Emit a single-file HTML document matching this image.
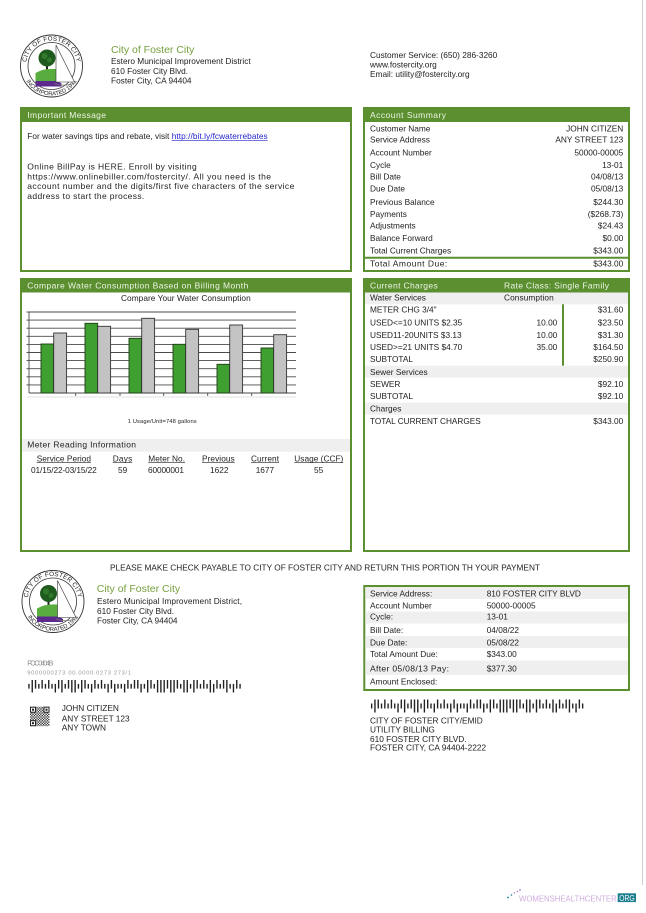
<!DOCTYPE html>
<html><head><meta charset="utf-8">
<style>
html,body{margin:0;padding:0;background:#fff;}
svg{display:block;}
text{font-family:"Liberation Sans",Arial,sans-serif;fill:#222;font-size:8.3px;}
.h{fill:#eef5e6;font-size:8.5px;}
.g{fill:#76a03e;font-size:10.5px;}
</style></head><body>
<svg width="646" height="913" viewBox="0 0 646 913" xmlns="http://www.w3.org/2000/svg">
<defs>
<pattern id="qr" width="2.6" height="2.6" patternUnits="userSpaceOnUse"><rect width="1.3" height="1.3" fill="#333"/><rect x="1.3" y="1.3" width="1.3" height="1.3" fill="#333"/></pattern>
<path id="arcT1" d="M-25.5,0 A25.5,25.5 0 0 1 25.5,0" fill="none"/>
<path id="arcB1" d="M-29.5,0 A29.5,29.5 0 0 0 29.5,0" fill="none"/>
</defs>
<rect width="646" height="913" fill="#fff"/>
<line x1="642.5" y1="0" x2="642.5" y2="885" stroke="#cfcfcf" stroke-width="1"/>

<!-- Top logo -->
<g transform="translate(51.5,66)">
<circle r="31" fill="#fff" stroke="#333" stroke-width="0.9"/>
<circle r="23.5" fill="#fff" stroke="#333" stroke-width="0.8"/>
<text font-size="6.3" letter-spacing="0.2" style="font-size:6.3px"><textPath href="#arcT1" startOffset="50%" text-anchor="middle">CITY OF FOSTER CITY</textPath></text>
<text font-size="5.8" style="font-size:5.8px"><textPath href="#arcB1" startOffset="50%" text-anchor="middle">INCORPORATED 1971</textPath></text>
<rect x="-5.5" y="-1" width="2" height="6" fill="#222"/>
<circle cx="-4.5" cy="-8" r="8.5" fill="#1f5a1e"/>
<circle cx="-7" cy="-10" r="3" fill="#2f7a2a"/>
<circle cx="-2" cy="-6" r="2.5" fill="#2f7a2a"/>
<path d="M-16,16 L-16,7 Q-8,2 4.5,3 L4.5,16 Z" fill="#58ad3e"/>
<path d="M-16,15 L6,15 L10,17.5 L10,20.5 L-16,20.5 Z" fill="#5b2a8c"/>
<path d="M4.5,-21 L4.5,16 L23,16 Z" fill="#fff" stroke="#333" stroke-width="0.6"/>
<path d="M3,17.5 Q12,21 24,17" stroke="#777" stroke-width="0.7" fill="none"/>
</g>

<text class="g" x="111" y="52.8">City of Foster City</text>
<text x="111" y="64">Estero Municipal Improvement District</text>
<text x="111" y="74">610 Foster City Blvd.</text>
<text x="111" y="83.5">Foster City, CA 94404</text>

<text x="370" y="58">Customer Service: (650) 286-3260</text>
<text x="370" y="67.5">www.fostercity.org</text>
<text x="370" y="77">Email: utility@fostercity.org</text>

<!-- Important Message -->
<rect x="21" y="108" width="330" height="163" fill="#fff" stroke="#5b8f30" stroke-width="2"/>
<rect x="20" y="107" width="332" height="15" fill="#5b8f30"/>
<text class="h" x="27.3" y="118" textLength="78.7" lengthAdjust="spacing">Important Message</text>
<text x="27.3" y="139" textLength="142" lengthAdjust="spacing">For water savings tips and rebate, visit</text>
<text x="171.7" y="139" textLength="96" lengthAdjust="spacing" style="fill:#2323d0">http://bit.ly/fcwaterrebates</text>
<line x1="171.7" y1="140.3" x2="267.7" y2="140.3" stroke="#2323d0" stroke-width="0.6"/>
<text x="27.3" y="169.7" style="font-size:8.5px" textLength="169.4" lengthAdjust="spacing">Online BillPay is HERE. Enroll by visiting</text>
<text x="27.3" y="179.3" style="font-size:8.5px" textLength="243.7" lengthAdjust="spacing">https://www.onlinebiller.com/fostercity/. All you need is the</text>
<text x="27.3" y="189.1" style="font-size:8.5px" textLength="267" lengthAdjust="spacing">account number and the digits/first five characters of the service</text>
<text x="27.3" y="198.9" style="font-size:8.5px" textLength="117" lengthAdjust="spacing">address to start the process.</text>

<!-- Account Summary -->
<rect x="364" y="108" width="265" height="163" fill="#fff" stroke="#5b8f30" stroke-width="2"/>
<rect x="363" y="107" width="267" height="15" fill="#5b8f30"/>
<text class="h" x="370" y="118" textLength="76" lengthAdjust="spacing">Account Summary</text>
<g>
<text x="370" y="131.3">Customer Name</text><text x="623.3" y="131.3" text-anchor="end">JOHN CITIZEN</text>
<text x="370" y="142.7">Service Address</text><text x="623.3" y="142.7" text-anchor="end">ANY STREET 123</text>
<text x="370" y="155.7">Account Number</text><text x="623.3" y="155.7" text-anchor="end">50000-00005</text>
<text x="370" y="168">Cycle</text><text x="623.3" y="168" text-anchor="end">13-01</text>
<text x="370" y="179.7">Bill Date</text><text x="623.3" y="179.7" text-anchor="end">04/08/13</text>
<text x="370" y="191.7">Due Date</text><text x="623.3" y="191.7" text-anchor="end">05/08/13</text>
<text x="370" y="205">Previous Balance</text><text x="623.3" y="205" text-anchor="end">$244.30</text>
<text x="370" y="217">Payments</text><text x="623.3" y="217" text-anchor="end">($268.73)</text>
<text x="370" y="228.7">Adjustments</text><text x="623.3" y="228.7" text-anchor="end">$24.43</text>
<text x="370" y="241">Balance Forward</text><text x="623.3" y="241" text-anchor="end">$0.00</text>
<text x="370" y="253.7">Total Current Charges</text><text x="623.3" y="253.7" text-anchor="end">$343.00</text>
</g>
<line x1="363" y1="257.7" x2="630" y2="257.7" stroke="#5b8f30" stroke-width="2"/>
<text x="370" y="266.7" style="font-size:8.5px" textLength="77.3" lengthAdjust="spacing">Total Amount Due:</text>
<text x="623.3" y="266.7" text-anchor="end">$343.00</text>

<!-- Chart box -->
<rect x="21" y="279" width="330" height="272" fill="#fff" stroke="#5b8f30" stroke-width="2"/>
<rect x="20" y="278" width="332" height="14.5" fill="#5b8f30"/>
<text class="h" x="27.3" y="288.6" textLength="221" lengthAdjust="spacing">Compare Water Consumption Based on Billing Month</text>
<text x="121" y="301" textLength="129.7" lengthAdjust="spacing">Compare Your Water Consumption</text>

<g stroke="#4a4a4a" stroke-width="0.9">
<line x1="29" y1="312" x2="296" y2="312"/>
<line x1="29" y1="320.1" x2="296" y2="320.1"/>
<line x1="29" y1="328.2" x2="296" y2="328.2"/>
<line x1="29" y1="336.3" x2="296" y2="336.3"/>
<line x1="29" y1="344.4" x2="296" y2="344.4"/>
<line x1="29" y1="352.5" x2="296" y2="352.5"/>
<line x1="29" y1="360.6" x2="296" y2="360.6"/>
<line x1="29" y1="368.7" x2="296" y2="368.7"/>
<line x1="29" y1="376.8" x2="296" y2="376.8"/>
<line x1="29" y1="384.9" x2="296" y2="384.9"/>
<line x1="29" y1="393" x2="296" y2="393"/>
<line x1="29" y1="312" x2="29" y2="393"/>
<line x1="26.5" y1="312" x2="29" y2="312"/>
<line x1="26.5" y1="320.1" x2="29" y2="320.1"/>
<line x1="26.5" y1="328.2" x2="29" y2="328.2"/>
<line x1="26.5" y1="336.3" x2="29" y2="336.3"/>
<line x1="26.5" y1="344.4" x2="29" y2="344.4"/>
<line x1="26.5" y1="352.5" x2="29" y2="352.5"/>
<line x1="26.5" y1="360.6" x2="29" y2="360.6"/>
<line x1="26.5" y1="368.7" x2="29" y2="368.7"/>
<line x1="26.5" y1="376.8" x2="29" y2="376.8"/>
<line x1="26.5" y1="384.9" x2="29" y2="384.9"/>
<line x1="75.7" y1="393" x2="75.7" y2="396"/>
<line x1="120" y1="393" x2="120" y2="396"/>
<line x1="163.7" y1="393" x2="163.7" y2="396"/>
<line x1="207.7" y1="393" x2="207.7" y2="396"/>
<line x1="251.7" y1="393" x2="251.7" y2="396"/>
</g>
<line x1="27" y1="397" x2="296" y2="397" stroke="#e2e2e2" stroke-width="1"/>
<g stroke="#1f3a14" stroke-width="0.9" fill="#3f9f30">
<rect x="41" y="344" width="12.7" height="49"/>
<rect x="85" y="323.3" width="12.7" height="69.7"/>
<rect x="129" y="338.3" width="12.7" height="54.7"/>
<rect x="173" y="344.3" width="12.7" height="48.7"/>
<rect x="217" y="364.3" width="12.7" height="28.7"/>
<rect x="261" y="348" width="12.7" height="45"/>
</g>
<g stroke="#333" stroke-width="0.9" fill="#c3c3c3">
<rect x="53.7" y="333" width="12.9" height="60"/>
<rect x="97.7" y="326.3" width="12.9" height="66.7"/>
<rect x="141.7" y="318.3" width="12.9" height="74.7"/>
<rect x="185.7" y="329.3" width="12.9" height="63.7"/>
<rect x="229.7" y="325" width="12.9" height="68"/>
<rect x="273.7" y="334.7" width="12.9" height="58.3"/>
</g>
<text x="127.7" y="422.8" style="font-size:5.8px" textLength="69" lengthAdjust="spacing">1 Usage/Unit=748 gallons</text>

<rect x="22" y="439" width="328" height="12.7" fill="#efefef"/>
<text x="27.3" y="447.3" style="font-size:8.5px" textLength="108.7" lengthAdjust="spacing">Meter Reading Information</text>

<text x="36.7" y="461.3" textLength="54.3" lengthAdjust="spacing">Service Period</text>
<text x="112.7" y="461.3" textLength="19.6" lengthAdjust="spacing">Days</text>
<text x="148.3" y="461.3" textLength="36.7" lengthAdjust="spacing">Meter No.</text>
<text x="202" y="461.3" textLength="32.7" lengthAdjust="spacing">Previous</text>
<text x="251" y="461.3" textLength="28" lengthAdjust="spacing">Current</text>
<text x="294.3" y="461.3" textLength="49" lengthAdjust="spacing">Usage (CCF)</text>
<g stroke="#222" stroke-width="0.6">
<line x1="36.7" y1="462.6" x2="91" y2="462.6"/>
<line x1="112.7" y1="462.6" x2="132.3" y2="462.6"/>
<line x1="148.3" y1="462.6" x2="185" y2="462.6"/>
<line x1="202" y1="462.6" x2="234.7" y2="462.6"/>
<line x1="251" y1="462.6" x2="279" y2="462.6"/>
<line x1="294.3" y1="462.6" x2="343.3" y2="462.6"/>
</g>
<text x="31" y="473" textLength="65.7" lengthAdjust="spacing">01/15/22-03/15/22</text>
<text x="118" y="473">59</text>
<text x="148" y="473" textLength="36" lengthAdjust="spacing">60000001</text>
<text x="210" y="473">1622</text>
<text x="255.7" y="473">1677</text>
<text x="314" y="473">55</text>

<!-- Current Charges -->
<rect x="364" y="279" width="265" height="272" fill="#fff" stroke="#5b8f30" stroke-width="2"/>
<rect x="363" y="278" width="267" height="14.5" fill="#5b8f30"/>
<text class="h" x="370" y="288.6" textLength="67.7" lengthAdjust="spacing">Current Charges</text>
<text class="h" x="504" y="288.6" textLength="105" lengthAdjust="spacing">Rate Class: Single Family</text>
<rect x="365" y="292.5" width="263" height="11.8" fill="#efefef"/>
<rect x="365" y="365.7" width="263" height="12" fill="#efefef"/>
<rect x="365" y="402.7" width="263" height="12" fill="#efefef"/>
<line x1="563" y1="304.3" x2="563" y2="365.7" stroke="#5b8f30" stroke-width="2"/>
<text x="370" y="300.7">Water Services</text>
<text x="504" y="300.7" textLength="49.7" lengthAdjust="spacing">Consumption</text>
<text x="370" y="312.7">METER CHG 3/4"</text><text x="623.3" y="312.7" text-anchor="end">$31.60</text>
<text x="370" y="325.3">USED&lt;=10 UNITS $2.35</text><text x="557.3" y="325.3" text-anchor="end">10.00</text><text x="623.3" y="325.3" text-anchor="end">$23.50</text>
<text x="370" y="338">USED11-20UNITS $3.13</text><text x="557.3" y="338" text-anchor="end">10.00</text><text x="623.3" y="338" text-anchor="end">$31.30</text>
<text x="370" y="350">USED&gt;=21 UNITS $4.70</text><text x="557.3" y="350" text-anchor="end">35.00</text><text x="623.3" y="350" text-anchor="end">$164.50</text>
<text x="370" y="362">SUBTOTAL</text><text x="623.3" y="362" text-anchor="end">$250.90</text>
<text x="370" y="375">Sewer Services</text>
<text x="370" y="387">SEWER</text><text x="623.3" y="387" text-anchor="end">$92.10</text>
<text x="370" y="399">SUBTOTAL</text><text x="623.3" y="399" text-anchor="end">$92.10</text>
<text x="370" y="411.7">Charges</text>
<text x="370" y="424" textLength="110.7" lengthAdjust="spacingAndGlyphs">TOTAL CURRENT CHARGES</text><text x="623.3" y="424" text-anchor="end">$343.00</text>

<!-- Remittance -->
<text x="110" y="570.5" textLength="430" lengthAdjust="spacingAndGlyphs">PLEASE MAKE CHECK PAYABLE TO CITY OF FOSTER CITY AND RETURN THIS PORTION TH YOUR PAYMENT</text>

<g transform="translate(53,601.5)">
<circle r="31" fill="#fff" stroke="#333" stroke-width="0.9"/>
<circle r="23.5" fill="#fff" stroke="#333" stroke-width="0.8"/>
<text style="font-size:6.3px" letter-spacing="0.2"><textPath href="#arcT1" startOffset="50%" text-anchor="middle">CITY OF FOSTER CITY</textPath></text>
<text style="font-size:5.8px"><textPath href="#arcB1" startOffset="50%" text-anchor="middle">INCORPORATED 1971</textPath></text>
<rect x="-5.5" y="-1" width="2" height="6" fill="#222"/>
<circle cx="-4.5" cy="-8" r="8.5" fill="#1f5a1e"/>
<circle cx="-7" cy="-10" r="3" fill="#2f7a2a"/>
<circle cx="-2" cy="-6" r="2.5" fill="#2f7a2a"/>
<path d="M-16,16 L-16,7 Q-8,2 4.5,3 L4.5,16 Z" fill="#58ad3e"/>
<path d="M-16,15 L6,15 L10,17.5 L10,20.5 L-16,20.5 Z" fill="#5b2a8c"/>
<path d="M4.5,-21 L4.5,16 L23,16 Z" fill="#fff" stroke="#333" stroke-width="0.6"/>
<path d="M3,17.5 Q12,21 24,17" stroke="#777" stroke-width="0.7" fill="none"/>
</g>

<text class="g" x="96.7" y="592">City of Foster City</text>
<text x="97" y="604" textLength="145" lengthAdjust="spacing">Estero Municipal Improvement District,</text>
<text x="97" y="614">610 Foster City Blvd.</text>
<text x="97" y="623.5">Foster City, CA 94404</text>

<text x="27.3" y="665.5" style="font-size:7px;fill:#8a8a8a" textLength="26" lengthAdjust="spacing">FOC0404B</text>
<text x="27.3" y="674.5" style="font-size:5.8px;fill:#999" textLength="103.7" lengthAdjust="spacing">9000000273 00.0000.0273 273/1</text>

<svg x="27.3" y="680" width="214.4" height="12.5" viewBox="0 0 65 13" preserveAspectRatio="none">
<path stroke="#222" stroke-width="0.42" fill="none" d="M0.5 4V9M1.5 0V13M2.5 0V9M3.5 4V9M4.5 0V9M5.5 4V9M6.5 0V9M7.5 4V9M8.5 4V13M9.5 0V9M10.5 0V13M11.5 4V9M12.5 0V9M13.5 0V13M14.5 0V13M15.5 4V9M16.5 0V13M17.5 0V9M18.5 4V9M19.5 4V13M20.5 0V9M21.5 4V9M22.5 0V9M23.5 4V9M24.5 4V13M25.5 0V9M26.5 4V13M27.5 4V9M28.5 4V9M29.5 4V13M30.5 0V9M31.5 4V9M32.5 0V9M33.5 0V9M34.5 4V13M35.5 4V9M36.5 0V13M37.5 0V9M38.5 4V9M39.5 0V13M40.5 0V13M41.5 0V13M42.5 0V9M43.5 0V13M44.5 0V13M45.5 0V9M46.5 4V9M47.5 0V13M48.5 0V13M49.5 4V9M50.5 0V13M51.5 0V9M52.5 4V9M53.5 0V9M54.5 4V9M55.5 0V13M56.5 4V13M57.5 0V9M58.5 4V9M59.5 0V9M60.5 0V13M61.5 4V9M62.5 4V13M63.5 0V9M64.5 4V9"/>
</svg>

<rect x="30" y="706.7" width="19.5" height="19.5" fill="url(#qr)"/>
<rect x="30.5" y="707.2" width="5" height="5" fill="#fff" stroke="#222" stroke-width="1"/>
<rect x="32" y="708.7" width="2" height="2" fill="#222"/>
<rect x="44" y="707.2" width="5" height="5" fill="#fff" stroke="#222" stroke-width="1"/>
<rect x="45.5" y="708.7" width="2" height="2" fill="#222"/>
<rect x="30.5" y="720.7" width="5" height="5" fill="#fff" stroke="#222" stroke-width="1"/>
<rect x="32" y="722.2" width="2" height="2" fill="#222"/>

<text x="61.7" y="711">JOHN CITIZEN</text>
<text x="61.7" y="721.3">ANY STREET 123</text>
<text x="61.7" y="730.7">ANY TOWN</text>

<rect x="364.3" y="586" width="264.7" height="104" fill="#fff" stroke="#5b8f30" stroke-width="2"/>
<rect x="365.3" y="587" width="262.7" height="12" fill="#efefef"/>
<rect x="365.3" y="611.5" width="262.7" height="12" fill="#efefef"/>
<rect x="365.3" y="636" width="262.7" height="12" fill="#efefef"/>
<rect x="365.3" y="660.5" width="262.7" height="14.5" fill="#efefef"/>
<text x="370" y="596.3">Service Address:</text><text x="486.7" y="596.3">810 FOSTER CITY BLVD</text>
<text x="370" y="608.7">Account Number</text><text x="486.7" y="608.7">50000-00005</text>
<text x="370" y="619.5">Cycle:</text><text x="486.7" y="619.5">13-01</text>
<text x="370" y="633">Bill Date:</text><text x="486.7" y="633">04/08/22</text>
<text x="370" y="645.3">Due Date:</text><text x="486.7" y="645.3">05/08/22</text>
<text x="370" y="657">Total Amount Due:</text><text x="486.7" y="657">$343.00</text>
<text x="370" y="671.3" style="font-size:8.6px" letter-spacing="0.3">After 05/08/13 Pay:</text><text x="486.7" y="671.3">$377.30</text>
<text x="370" y="684.7">Amount Enclosed:</text>

<svg x="370" y="699.5" width="214.3" height="13" viewBox="0 0 65 13" preserveAspectRatio="none">
<path stroke="#222" stroke-width="0.42" fill="none" d="M0.5 4V9M1.5 0V13M2.5 0V9M3.5 4V9M4.5 0V9M5.5 4V9M6.5 0V9M7.5 4V9M8.5 4V13M9.5 0V9M10.5 0V13M11.5 4V9M12.5 0V9M13.5 0V13M14.5 0V13M15.5 4V9M16.5 0V13M17.5 0V9M18.5 4V9M19.5 4V13M20.5 0V9M21.5 4V9M22.5 0V9M23.5 4V9M24.5 4V13M25.5 0V9M26.5 4V13M27.5 4V9M28.5 4V9M29.5 4V13M30.5 0V9M31.5 4V9M32.5 0V9M33.5 0V9M34.5 4V13M35.5 4V9M36.5 0V13M37.5 0V9M38.5 4V9M39.5 0V13M40.5 0V13M41.5 0V13M42.5 0V9M43.5 0V13M44.5 0V13M45.5 0V9M46.5 4V9M47.5 0V13M48.5 0V13M49.5 4V9M50.5 0V13M51.5 0V9M52.5 4V9M53.5 0V9M54.5 4V9M55.5 0V13M56.5 4V13M57.5 0V9M58.5 4V9M59.5 0V9M60.5 0V13M61.5 4V9M62.5 4V13M63.5 0V9M64.5 4V9"/>
</svg>

<text x="370" y="723.7">CITY OF FOSTER CITY/EMID</text>
<text x="370" y="732.3">UTILITY BILLING</text>
<text x="370" y="742">610 FOSTER CITY BLVD.</text>
<text x="370" y="750.7">FOSTER CITY, CA 94404-2222</text>

<!-- footer logo -->
<circle cx="508" cy="897.5" r="0.9" fill="#1a7f8e"/>
<circle cx="511.5" cy="895" r="0.8" fill="#1a7f8e"/>
<circle cx="514.5" cy="893" r="0.7" fill="#b07ac8"/>
<circle cx="517.5" cy="891.5" r="0.8" fill="#b07ac8"/>
<circle cx="520" cy="890" r="0.9" fill="#b07ac8"/>
<text x="519" y="901.3" style="font-size:8px;fill:#cfadde" textLength="97.7" lengthAdjust="spacingAndGlyphs">WOMENSHEALTHCENTER</text>
<rect x="617.7" y="893.3" width="18.3" height="8.8" fill="#1a7f8e"/>
<text x="619.2" y="900.8" style="font-size:7.8px;fill:#fff" textLength="15.4" lengthAdjust="spacingAndGlyphs">ORG</text>
</svg>
</body></html>
